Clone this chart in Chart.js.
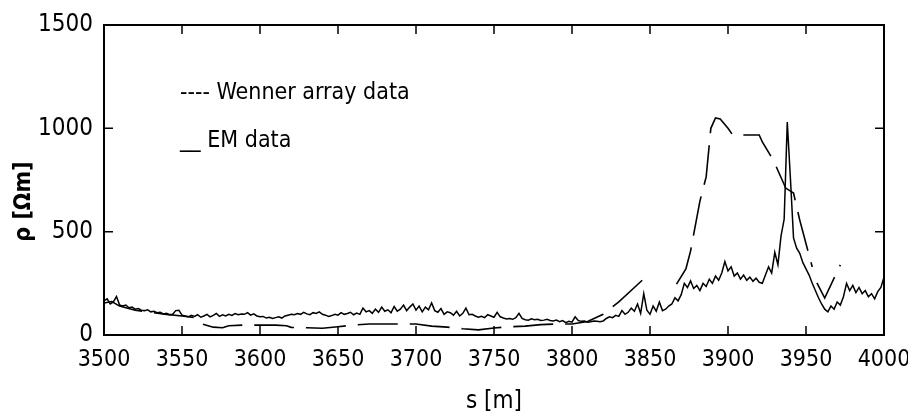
<!DOCTYPE html>
<html>
<head>
<meta charset="utf-8">
<script src="https://cdn.jsdelivr.net/npm/chart.js@4.4.1/dist/chart.umd.min.js"></script>
<style>
    html, body { margin: 0; padding: 0; background: #ffffff; }
    #wrap { width: 908px; height: 416px; }
</style>
</head>
<body>
<div id="wrap"><canvas id="resistivityChart" width="908" height="416"></canvas></div>
<script>
// EM data sampled every 2 m from 3500 to 4000
const emStart = 3500;
const emStep = 2;
const emRho = [
    165, 175, 150, 160, 186, 145, 140, 145, 132, 135, 125,
    128, 120, 118, 122, 112, 115, 108, 110, 102, 105,
    98, 100, 118, 120, 96, 92, 88, 95, 90, 98,
    86, 92, 100, 88, 95, 104, 90, 98, 92, 100,
    95, 104, 98, 102, 100, 108, 96, 102, 92, 88,
    90, 82, 86, 80, 84, 88, 82, 92, 96, 100,
    98, 104, 100, 110, 102, 98, 108, 104, 112, 100,
    96, 90, 94, 100, 96, 108, 100, 104, 110, 98,
    106, 100, 130, 112, 118, 105, 125, 110, 135, 115,
    122, 108, 138, 115, 125, 145, 118, 135, 150, 120,
    140, 112, 135, 122, 155, 118, 110, 128, 100, 112,
    108, 96, 115, 92, 105, 130, 98, 100, 92, 86,
    90, 84, 98, 92, 86, 110, 88, 82, 78, 80,
    76, 84, 105, 80, 74, 72, 78, 74, 76, 70,
    72, 76, 70, 68, 72, 64, 70, 60, 66, 62,
    88, 70, 66, 68, 62, 64, 68, 66, 64, 68,
    80, 88, 84, 95, 90, 118, 100, 110, 130, 115,
    150, 105, 200, 120, 100, 140, 115, 160, 118, 125,
    140, 150, 180, 165, 195, 250, 230, 262, 225, 240,
    215, 250, 235, 270, 250, 285, 265, 300, 355, 310,
    330, 285, 300, 270, 290, 265, 280, 260, 275, 255,
    250, 290, 330, 300, 400, 340, 480, 560, 1030, 760,
    470, 420, 395, 350, 320, 290, 250, 215, 180, 150,
    125, 112, 140, 125, 160, 145, 185, 250, 215, 240,
    205, 230, 200, 215, 185, 200, 175, 210, 230, 280
];

// Wenner array data (null = break in the line)
const wennerS = [
    3500, 3505, 3510, 3520, 3530, 3540, 3550, 3558, 3562, 3570,
    3576, 3580, 3590, 3600, 3610, 3617, 3620, 3630, 3640, 3650,
    3660, 3670, 3680, 3690, 3700, 3710, 3720, 3730, 3740, 3750,
    3760, 3770, 3780, 3790, 3800, 3810, 3820, 3830, 3840, 3845,
    3855, 3867, 3873, 3876, 3882, 3886, 3889, 3892, 3895, 3900,
    3903, 3910, 3920, 3922, 3929, 3937, 3942, 3946, 3954, 3955.5,
    3957, 3962, 3972
];
const wennerRho = [
    155, 162, 140, 120, 110, 100, 92, 85, 55, 38,
    35, 45, 48, 48, 48, 45, 37, 35, 33, 40,
    48, 53, 53, 53, 53, 43, 38, 30, 25, 34,
    40, 43, 50, 53, 53, 65, 100, 160, 230, 265,
    null, 246, 320, 406, 648, 765, 1000, 1050, 1045, 1000,
    968, 968, 968, 934, 847, 711, 687, 556, 329, null,
    252, 179, 339
];

const xTicks = [3500, 3550, 3600, 3650, 3700, 3750, 3800, 3850, 3900, 3950, 4000];
const yTicks = [0, 500, 1000, 1500];

const legendLines = ['---- Wenner array data', '__ EM data'];

const fontFamily = "'Liberation Sans Narrow', 'Arial Narrow', 'DejaVu Sans Condensed', 'Liberation Sans', sans-serif";

// frame + inward tick marks, like the original plot
const framePlugin = {
    id: 'frameTicks',
    afterDatasetsDraw(chart) {
        const { ctx, chartArea: a, scales } = chart;
        const len = 9;
        ctx.save();
        ctx.strokeStyle = '#000';
        ctx.lineWidth = 2;
        ctx.strokeRect(a.left, a.top, a.right - a.left, a.bottom - a.top);
        ctx.lineWidth = 1.5;
        ctx.beginPath();
        xTicks.slice(1, -1).forEach(v => {
            const px = scales.x.getPixelForValue(v);
            ctx.moveTo(px, a.bottom); ctx.lineTo(px, a.bottom - len);
            ctx.moveTo(px, a.top); ctx.lineTo(px, a.top + len);
        });
        yTicks.slice(1, -1).forEach(v => {
            const py = scales.y.getPixelForValue(v);
            ctx.moveTo(a.left, py); ctx.lineTo(a.left + len, py);
            ctx.moveTo(a.right, py); ctx.lineTo(a.right - len, py);
        });
        ctx.stroke();

        // legend text inside the plot
        ctx.fillStyle = '#000';
        ctx.font = '23px ' + fontFamily;
        ctx.textBaseline = 'alphabetic';
        ctx.fillText(legendLines[0], 180, 99);
        ctx.fillText(legendLines[1], 180, 147);
        ctx.restore();
    }
};

const ctx = document.getElementById('resistivityChart');
new Chart(ctx, {
    type: 'line',
    data: {
        datasets: [
            {
                label: 'EM data',
                data: emRho.map((r, i) => ({ x: emStart + i * emStep, y: r })),
                borderColor: '#000',
                borderWidth: 1.5,
                pointRadius: 0,
                tension: 0
            },
            {
                label: 'Wenner array data',
                data: wennerS.map((s, i) => ({ x: s, y: wennerRho[i] })),
                borderColor: '#000',
                borderWidth: 1.6,
                borderDash: [40, 12],
                pointRadius: 0,
                tension: 0,
                spanGaps: false
            }
        ]
    },
    options: {
        responsive: false,
        animation: false,
        layout: { padding: { top: 25, right: 24, left: 0, bottom: 0 } },
        plugins: {
            legend: { display: false },
            tooltip: { enabled: false }
        },
        scales: {
            x: {
                type: 'linear',
                min: 3500,
                max: 4000,
                afterBuildTicks: axis => { axis.ticks = xTicks.map(v => ({ value: v })); },
                afterFit: axis => {
                    axis.height = 81;
                    axis.paddingLeft = 0;
                    axis.paddingRight = 0;
                },
                grid: { display: false, drawTicks: false },
                border: { display: false },
                ticks: {
                    color: '#000',
                    padding: 11,
                    maxRotation: 0,
                    autoSkip: false,
                    font: { family: fontFamily, size: 23 },
                    callback: v => String(v)
                },
                title: {
                    display: true,
                    text: 's [m]',
                    color: '#000',
                    padding: { top: 10, bottom: 0 },
                    font: { family: fontFamily, size: 24 }
                }
            },
            y: {
                min: 0,
                max: 1500,
                afterBuildTicks: axis => { axis.ticks = yTicks.map(v => ({ value: v })); },
                afterFit: axis => {
                    axis.width = 104;
                    axis.paddingTop = 0;
                    axis.paddingBottom = 0;
                },
                grid: { display: false, drawTicks: false },
                border: { display: false },
                ticks: {
                    color: '#000',
                    padding: 11,
                    font: { family: fontFamily, size: 24 },
                    callback: v => String(v)
                },
                title: {
                    display: true,
                    // trailing spaces nudge the rotated title down like the original
                    text: 'ρ [Ωm]      ',
                    color: '#000',
                    padding: { top: 10, bottom: 0 },
                    font: { family: fontFamily, size: 23, weight: 'bold' }
                }
            }
        }
    },
    plugins: [framePlugin]
});
</script>
</body>
</html>
